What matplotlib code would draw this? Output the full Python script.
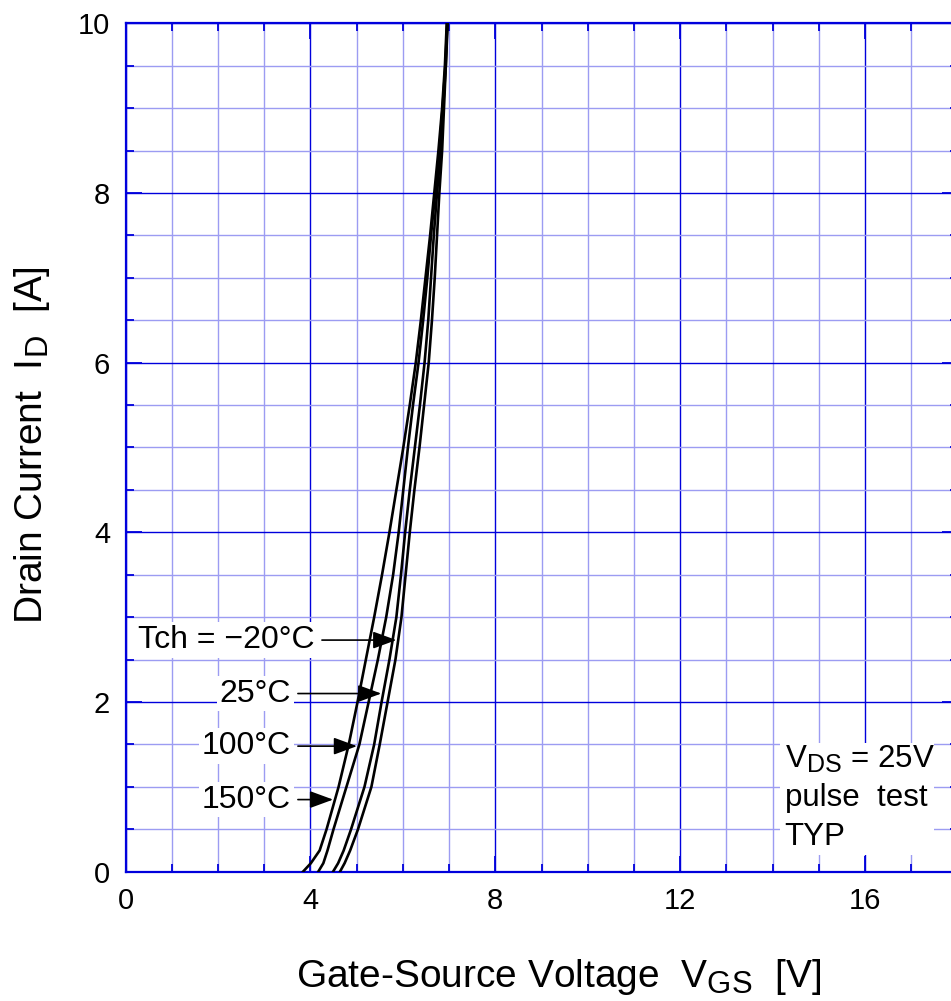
import numpy as np
import matplotlib
matplotlib.use('Agg')
import matplotlib.pyplot as plt
import matplotlib._mathtext as mathtext_internals
from matplotlib.patches import Rectangle
from matplotlib.ticker import MultipleLocator

plt.rcParams['font.family'] = ['Liberation Sans', 'DejaVu Sans']
plt.rcParams['mathtext.fontset'] = 'custom'
plt.rcParams['mathtext.rm'] = 'Liberation Sans'
# subscripts in the original are only slightly smaller than the main text
mathtext_internals.SHRINK_FACTOR = 0.8

# Drain current levels (A) and the gate voltage (V) read for each curve
id_levels = [0, 0.1, 0.25, 0.5, 1.0, 1.5, 2.0, 2.5, 3.0, 3.5, 4.0, 4.5,
             5.0, 5.5, 6.0, 6.5, 7.0, 7.5, 8.0, 8.5, 9.0, 9.5, 10.0]
vgs_150 = [3.84, 4.01, 4.20, 4.35, 4.61, 4.83, 5.02, 5.20, 5.38, 5.55, 5.71, 5.86,
           6.01, 6.15, 6.28, 6.39, 6.49, 6.59, 6.68, 6.77, 6.85, 6.91, 6.95]
vgs_100 = [4.17, 4.28, 4.37, 4.50, 4.78, 5.06, 5.26, 5.46, 5.64, 5.79, 5.91, 6.01,
           6.11, 6.22, 6.34, 6.44, 6.53, 6.61, 6.70, 6.79, 6.86, 6.92, 6.96]
vgs_25 = [4.49, 4.60, 4.72, 4.88, 5.17, 5.38, 5.54, 5.71, 5.86, 5.96, 6.05, 6.15,
          6.26, 6.37, 6.47, 6.55, 6.61, 6.67, 6.74, 6.82, 6.87, 6.93, 6.96]
vgs_m20 = [4.64, 4.74, 4.86, 5.03, 5.32, 5.50, 5.67, 5.84, 5.97, 6.06, 6.15, 6.25,
           6.36, 6.46, 6.56, 6.63, 6.69, 6.74, 6.79, 6.85, 6.89, 6.93, 6.97]

curves = [vgs_m20, vgs_25, vgs_100, vgs_150]
labels = ['Tch = \u221220\u00b0C', '25\u00b0C', '100\u00b0C', '150\u00b0C']
label_y = [2.73, 2.10, 1.48, 0.85]
label_right = [4.10, 3.58, 3.58, 3.58]

cond_lines = ['$\\mathregular{V_{DS}}$ = 25V', 'pulse  test', 'TYP']
cond_y = [1.22, 0.77, 0.31]

dark = '#0000dc'
light = '#9c9cf2'

fig = plt.figure(figsize=(9.51, 10.01), dpi=100)
ax = fig.add_axes([125.5 / 951, 129.3 / 1001, 832 / 951, 848.4 / 1001])

for vg in curves:
    ax.plot(vg, id_levels, color='black', lw=1.9, zorder=4,
            solid_joinstyle='round')

ax.set_xlim(0, 18)
ax.set_ylim(0, 10)
ax.xaxis.set_major_locator(MultipleLocator(4))
ax.xaxis.set_minor_locator(MultipleLocator(1))
ax.yaxis.set_major_locator(MultipleLocator(2))
ax.yaxis.set_minor_locator(MultipleLocator(0.5))
ax.set_axisbelow(True)
ax.grid(which='minor', color=light, lw=1.0)
ax.grid(which='major', color=dark, lw=1.0)
ax.tick_params(which='both', direction='in', top=True, right=True,
               color=dark, width=1.3, labelsize=21, pad=11)
ax.tick_params(which='major', length=11.5)
ax.tick_params(which='minor', length=5.8)
for sp in ax.spines.values():
    sp.set_color(dark)
    sp.set_linewidth(1.6)

# temperature labels with arrows pointing to the curves
for txt, y, xr, vg in zip(labels, label_y, label_right, curves):
    ax.text(xr, y, txt, ha='right', va='center', fontsize=23, zorder=5,
            bbox=dict(facecolor='white', edgecolor='none', pad=2))
    tip = np.interp(y, id_levels, vg) - 0.04
    ax.annotate('', xy=(tip, y), xytext=(xr + 0.15, y), zorder=6,
                arrowprops=dict(arrowstyle='-|>,head_length=0.6,head_width=0.22',
                                color='black', lw=1.2, mutation_scale=24,
                                shrinkA=0, shrinkB=0))

# test conditions box
ax.add_patch(Rectangle((14.15, 0.20), 3.35, 1.32, facecolor='white',
                       edgecolor='none', zorder=3))
for txt, y in zip(cond_lines, cond_y):
    ax.text(14.26, y, txt, ha='left', va='baseline', fontsize=22.5, zorder=5)

fig.text(559 / 951, 14 / 1001, 'Gate-Source Voltage  $\\mathregular{V_{GS}}$  [V]',
         ha='center', va='baseline', fontsize=28)
fig.text(42 / 951, 1 - 445 / 1001, 'Drain Current  $\\mathregular{I_D}$  [A]',
         rotation=90, rotation_mode='anchor', ha='center', va='baseline', fontsize=28)

fig.savefig('out.png', dpi=100)
